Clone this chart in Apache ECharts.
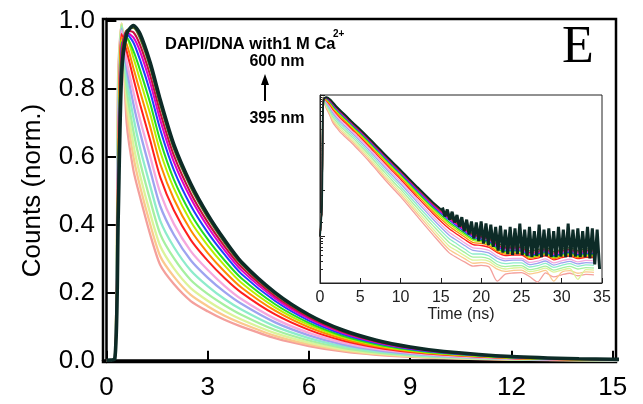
<!DOCTYPE html>
<html><head><meta charset="utf-8">
<script src="https://cdn.jsdelivr.net/npm/echarts@6/dist/echarts.min.js"></script>
<style>html,body{margin:0;padding:0;background:#fff}#c{width:643px;height:404px}</style>
</head><body><div id="c"></div>
<script>
// time axis (ns), shared by main plot and inset
const T = [0,0.25,0.35,0.45,0.6,0.8,1.0,1.3,1.6,2.0,2.5,3,3.5,4,5,6,7,8,9,10,12,14,16,17,18,19,20,21,22,23,24,25,26,27,28,29,30,31,32,33,34];

// normalized decay curves, 395 nm (fastest) -> 600 nm (slowest)
const c01 = [0.001,0.005,0.85,0.99,0.70,0.56,0.48,0.37,0.28,0.225,0.175,0.145,0.12,0.10,0.066,0.043,0.027,0.017,0.011,0.0072,0.0028,0.0011,0.00045,
  0.00035,0.00028,0.00023,0.00024,0.00022,0.00011,0.000155,0.000164,0.000167,0.000138,0.000105,0.000165,0.000135,0.00015,0.000162,0.000143,0.000153,0.00015];
const c02 = [0.001,0.005,0.82,0.99,0.74,0.60,0.511,0.40,0.306,0.247,0.193,0.160,0.132,0.110,0.0729,0.0476,0.0301,0.019,0.0124,0.0081,0.0032,0.00127,0.00053,
  0.000415,0.00033,0.000266,0.000273,0.000256,0.000198,0.000177,0.000187,0.00019,0.000156,0.000167,0.000187,0.00011,0.00017,0.000184,0.000162,0.000173,0.00017];
const c03 = [0.001,0.005,0.79,0.99,0.77,0.635,0.544,0.432,0.336,0.271,0.213,0.176,0.146,0.121,0.0806,0.0528,0.0335,0.0213,0.0139,0.00913,0.00364,0.00147,0.000626,
  0.00049,0.000383,0.00031,0.000313,0.000292,0.000224,0.0002,0.00021,0.000214,0.000175,0.000186,0.000209,0.000171,0.00019,0.000205,0.00012,0.000194,0.00019];
const c04 = [0.001,0.005,0.76,0.985,0.80,0.675,0.583,0.471,0.371,0.301,0.237,0.196,0.163,0.135,0.090,0.0592,0.0378,0.0242,0.0158,0.0104,0.00421,0.00173,0.000752,
  0.00058,0.00045,0.00036,0.00036,0.00033,0.00025,0.000225,0.000235,0.000237,0.000193,0.000206,0.000231,0.000189,0.00021,0.000227,0.0002,0.000214,0.00021];
const c05 = [0.001,0.005,0.72,0.98,0.83,0.715,0.624,0.513,0.410,0.334,0.265,0.219,0.181,0.150,0.1006,0.0664,0.0427,0.0275,0.018,0.0119,0.00487,0.00203,0.000901,
  0.00069,0.00053,0.00042,0.00042,0.00038,0.00029,0.00026,0.00027,0.00027,0.000221,0.000235,0.000264,0.000216,0.00024,0.00026,0.000228,0.000245,0.00024];
const c06 = [0.001,0.005,0.68,0.975,0.86,0.755,0.670,0.559,0.453,0.370,0.295,0.244,0.202,0.167,0.1124,0.0745,0.0481,0.0312,0.0204,0.01358,0.00563,0.00238,0.00108,
  0.00082,0.00063,0.0005,0.00048,0.00044,0.00034,0.0003,0.00031,0.00031,0.000248,0.000265,0.000297,0.000243,0.00027,0.000292,0.000257,0.000275,0.00027];
const c07 = [0.001,0.005,0.64,0.97,0.88,0.79,0.708,0.599,0.492,0.402,0.322,0.267,0.220,0.181,0.1228,0.0816,0.053,0.0345,0.0227,0.0151,0.00633,0.00271,0.00125,
  0.00095,0.00072,0.00057,0.00055,0.0005,0.00038,0.00033,0.00034,0.00034,0.000276,0.000294,0.00033,0.00027,0.0003,0.000324,0.000285,0.000306,0.0003];
const c08 = [0.001,0.005,0.60,0.96,0.91,0.83,0.753,0.647,0.538,0.442,0.355,0.294,0.243,0.200,0.1357,0.0904,0.0591,0.0386,0.0254,0.017,0.00721,0.00313,0.00148,
  0.00112,0.00085,0.00067,0.00064,0.00058,0.00045,0.00039,0.0004,0.0004,0.000322,0.000343,0.000385,0.000315,0.00035,0.000378,0.000333,0.000357,0.00035];
const c09 = [0.001,0.005,0.57,0.95,0.93,0.86,0.790,0.687,0.577,0.475,0.383,0.317,0.262,0.215,0.1467,0.098,0.0643,0.0422,0.0279,0.0186,0.00798,0.0035,0.00168,
  0.00126,0.00096,0.00074,0.00071,0.00063,0.00048,0.00042,0.00043,0.00043,0.00034,0.000363,0.000407,0.000333,0.00037,0.0004,0.000352,0.000377,0.00037];
const c10 = [0.001,0.005,0.54,0.94,0.945,0.89,0.824,0.724,0.613,0.506,0.409,0.339,0.280,0.229,0.1568,0.105,0.0691,0.0455,0.0301,0.0202,0.00871,0.00386,0.00187,
  0.0014,0.00106,0.00082,0.00077,0.00068,0.00052,0.00045,0.00046,0.00046,0.000359,0.000382,0.000429,0.000351,0.00039,0.000421,0.000371,0.000398,0.00039];
const c11 = [0.001,0.005,0.52,0.93,0.95,0.91,0.853,0.756,0.645,0.532,0.432,0.357,0.295,0.242,0.1657,0.1111,0.0733,0.0484,0.0321,0.0216,0.00937,0.00418,0.00205,
  0.00153,0.00115,0.00088,0.00082,0.00073,0.00055,0.00048,0.00049,0.00048,0.000377,0.000402,0.000451,0.000369,0.00041,0.000443,0.00039,0.000418,0.00041];
const c12 = [0.001,0.005,0.50,0.92,0.96,0.935,0.883,0.789,0.678,0.560,0.456,0.377,0.312,0.255,0.1752,0.1177,0.0779,0.0516,0.0343,0.023,0.01007,0.00453,0.00225,
  0.00167,0.00125,0.00096,0.00088,0.00078,0.00059,0.00051,0.00051,0.00051,0.000396,0.000421,0.000473,0.000387,0.00043,0.000464,0.000409,0.000439,0.00043];
const c13 = [0.001,0.005,0.48,0.91,0.965,0.95,0.908,0.816,0.706,0.584,0.477,0.394,0.325,0.266,0.1831,0.1232,0.0817,0.0543,0.0361,0.0243,0.01068,0.00483,0.00242,
  0.00179,0.00134,0.00103,0.00095,0.00084,0.00063,0.00055,0.00055,0.00054,0.000423,0.000451,0.000506,0.000414,0.00046,0.000497,0.000437,0.000469,0.00046];
const c14 = [0.001,0.005,0.46,0.90,0.97,0.965,0.927,0.838,0.728,0.603,0.492,0.407,0.336,0.275,0.1893,0.1276,0.0848,0.0564,0.0375,0.0253,0.01115,0.00507,0.00256,
  0.0019,0.00142,0.00109,0.00101,0.00089,0.00067,0.00058,0.00059,0.00058,0.000451,0.00048,0.000539,0.000441,0.00049,0.000529,0.000466,0.0005,0.00049];
const c15 = [0.001,0.005,0.44,0.88,0.97,0.978,0.946,0.860,0.750,0.622,0.509,0.421,0.347,0.284,0.1957,0.132,0.0879,0.0585,0.039,0.0263,0.01166,0.00533,0.0027,
  0.00201,0.0015,0.00116,0.00107,0.00095,0.00072,0.00062,0.00063,0.00062,0.000488,0.000519,0.000583,0.000477,0.00053,0.000572,0.000504,0.000541,0.00053];
const c16 = [0.001,0.005,0.42,0.84,0.96,0.985,0.96,0.875,0.765,0.635,0.52,0.43,0.355,0.29,0.20,0.135,0.09,0.06,0.04,0.027,0.012,0.0055,0.0028,
  0.00213,0.00164,0.00129,0.00126,0.00115,0.00087,0.00077,0.0008,0.0008,0.000644,0.000686,0.00077,0.00063,0.0007,0.000756,0.000665,0.000714,0.0007];

// noisy tail of the 600 nm curve (inset only)
const noiseT = [15.2,15.5,15.8,16.1,16.4,16.7,
  17.0,17.3,17.6,17.9,18.2,18.5,18.8,19.1,19.4,19.7,20.0,20.3,20.6,20.9,21.2,21.5,21.8,22.1,22.4,22.7,23.0,23.3,23.6,23.9,24.2,24.5,24.8,25.1,25.4,25.7,
  26.0,26.3,26.6,26.9,27.2,27.5,27.8,28.1,28.4,28.7,29.0,29.3,29.6,29.9,30.2,30.5,30.8,31.1,31.4,31.7,32.0,32.3,32.6,32.9,33.2,33.5,33.8,34.1,34.4,34.7];
const noiseV = [0.0042,0.0027,0.0038,0.0023,0.0034,0.0020,
  0.0029,0.0016,0.0026,0.0013,0.0023,0.0011,0.0021,0.0009,0.0020,0.0008,0.0021,0.0007,0.0019,0.00065,0.0018,0.0006,0.0016,0.0005,0.0017,0.00045,
  0.0014,0.00042,0.0016,0.0004,0.0015,0.00042,0.0019,0.0004,0.0014,0.00038,0.0016,0.00036,0.0013,0.00038,0.0018,0.00036,0.0014,0.00038,0.0015,0.00036,
  0.0013,0.00036,0.0016,0.00037,0.0014,0.00036,0.0019,0.00036,0.0014,0.00037,0.0015,0.00036,0.0013,0.00036,0.0016,0.00034,0.0015,0.00025,0.0014,0.0002];

const mainTicksX = [0,3,6,9,12,15];
const mainTicksY = [0,0.2,0.4,0.6,0.8,1.0];

const curves = [c01,c02,c03,c04,c05,c06,c07,c08,c09,c10,c11,c12,c13,c14,c15,c16];
const colors = ['#f4a09c','#fbc98e','#dcf39a','#a6f0a0','#8eeccb','#9ea4f0','#f5a8de','#ff1f1f','#ff8a00','#b8f000','#22dd22','#1e40ff','#e000c8','#c8103c','#556b1a','#0d2b27'];

const FONT = '"Liberation Sans", Arial, sans-serif';
const chart = echarts.init(document.getElementById('c'), null, {renderer:'canvas'});

const series = [];
curves.forEach((c,i)=>{
  const last = i === curves.length-1;
  series.push({type:'line', xAxisIndex:0, yAxisIndex:0, data:T.map((t,j)=>[t,c[j]]),
    showSymbol:false, smooth:0.25, silent:true, animation:false,
    lineStyle:{color:colors[i], width: last?3.6:(i<7?2.3:2)}});
});
curves.forEach((c,i)=>{
  const last = i === curves.length-1;
  series.push({type:'line', xAxisIndex:1, yAxisIndex:1, data:T.map((t,j)=>[t,c[j]]),
    showSymbol:false, smooth:0.25, silent:true, animation:false,
    lineStyle:{color:colors[i], width: last?1.8:1.3}});
});
series.push({type:'line', xAxisIndex:1, yAxisIndex:1, data:noiseT.map((t,j)=>[t,noiseV[j]]),
  showSymbol:false, silent:true, animation:false, lineStyle:{color:colors[15], width:3}});

chart.setOption({
  animation:false,
  backgroundColor:'#fff',
  grid:[
    {left:103, right:27, top:19, bottom:42, show:true, borderColor:'#000', borderWidth:2.5, backgroundColor:'transparent'},
    {left:320, right:41, top:95, bottom:121, show:true, borderColor:'#222', borderWidth:1, backgroundColor:'#fff'}
  ],
  xAxis:[
    {type:'value', gridIndex:0, min:-0.1, max:15.1,
     axisLine:{lineStyle:{color:'#000', width:2.5}},
     axisTick:{inside:true, length:10, customValues:mainTicksX, lineStyle:{color:'#000', width:2}},
     axisLabel:{customValues:mainTicksX, color:'#000', fontSize:26, fontFamily:FONT, margin:13},
     splitLine:{show:false}},
    {type:'value', gridIndex:1, min:0, max:35, interval:5,
     axisLine:{lineStyle:{color:'#222', width:1}},
     axisTick:{inside:true, length:5, lineStyle:{color:'#222', width:1}},
     axisLabel:{color:'#222', fontSize:16, fontFamily:FONT, margin:7},
     name:'Time (ns)', nameLocation:'middle', nameGap:24,
     nameTextStyle:{color:'#222', fontSize:16, fontFamily:FONT},
     splitLine:{show:false}}
  ],
  yAxis:[
    {type:'value', gridIndex:0, min:-0.004, max:1.004,
     axisLine:{lineStyle:{color:'#000', width:2.5}},
     axisTick:{inside:true, length:10, customValues:mainTicksY, lineStyle:{color:'#000', width:2}},
     axisLabel:{customValues:mainTicksY, color:'#000', fontSize:26, fontFamily:FONT, margin:8,
       formatter:v=>v.toFixed(1)},
     name:'Counts (norm.)', nameLocation:'middle', nameGap:57,
     nameTextStyle:{color:'#000', fontSize:26, fontFamily:FONT},
     splitLine:{show:false}},
    {type:'log', gridIndex:1, min:0.0001, max:1.1, logBase:10,
     axisLine:{lineStyle:{color:'#222', width:1}},
     axisTick:{inside:true, length:5, lineStyle:{color:'#222', width:1}},
     minorTick:{show:true, splitNumber:9, length:3, lineStyle:{color:'#222', width:1}},
     axisLabel:{show:false},
     splitLine:{show:false}}
  ],
  graphic:[
    {type:'text', left:165, top:36, style:{text:'DAPI/DNA with1 M Ca', font:'bold 16.5px '+FONT, fill:'#000'}},
    {type:'text', left:333, top:29, style:{text:'2+', font:'bold 10px '+FONT, fill:'#000'}},
    {type:'text', x:277, y:62, style:{text:'600 nm', font:'bold 16px '+FONT, fill:'#000', textAlign:'center', textVerticalAlign:'middle'}},
    {type:'line', shape:{x1:265, y1:101, x2:265, y2:82}, style:{stroke:'#000', lineWidth:2}},
    {type:'polygon', shape:{points:[[261,85],[269,85],[265,74]]}, style:{fill:'#000'}},
    {type:'text', x:277, y:119, style:{text:'395 nm', font:'bold 16px '+FONT, fill:'#000', textAlign:'center', textVerticalAlign:'middle'}},
    {type:'text', x:578, y:48, style:{text:'E', font:'52px "Liberation Serif", "Times New Roman", serif', fill:'#000', textAlign:'center', textVerticalAlign:'middle'}}
  ],
  series:series
});
</script></body></html>
